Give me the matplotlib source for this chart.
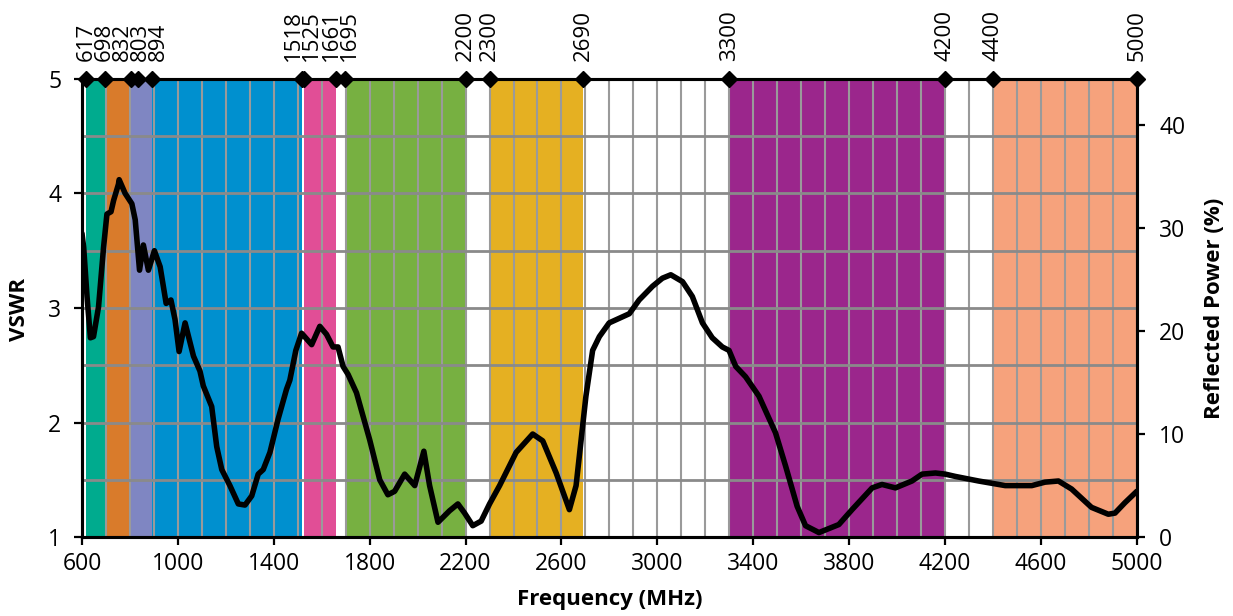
import numpy as np
import matplotlib.pyplot as plt
from matplotlib.ticker import MultipleLocator

plt.rcParams['font.family'] = ['Open Sans', 'DejaVu Sans']

# measured VSWR curve
freq = [600, 607, 621, 635, 648, 669, 690, 704, 721, 732, 752, 755, 780, 808, 822,
        840, 856, 877, 902, 926, 951, 971, 988, 1005, 1030, 1065, 1092, 1106, 1141,
        1162, 1183, 1217, 1252, 1280, 1308, 1335, 1356, 1384, 1418, 1453, 1467, 1492,
        1516, 1558, 1592, 1620, 1647, 1668, 1689, 1710, 1745, 1800, 1842, 1876, 1904,
        1946, 1988, 2026, 2050, 2085, 2133, 2168, 2196, 2230, 2265, 2300, 2342, 2411,
        2480, 2522, 2578, 2633, 2661, 2702, 2730, 2758, 2799, 2841, 2883, 2924, 2980,
        3021, 3056, 3105, 3146, 3188, 3229, 3271, 3299, 3327, 3368, 3424, 3493, 3535,
        3583, 3618, 3674, 3757, 3812, 3896, 3937, 3993, 4062, 4104, 4160, 4201, 4243,
        4340, 4451, 4562, 4617, 4673, 4728, 4811, 4881, 4909, 4950, 5000]
vswr = [3.65, 3.53, 3.10, 2.74, 2.75, 3.01, 3.53, 3.82, 3.84, 3.94, 4.08, 4.12, 4.00,
        3.91, 3.77, 3.33, 3.55, 3.33, 3.50, 3.36, 3.04, 3.07, 2.90, 2.62, 2.87, 2.58,
        2.45, 2.32, 2.14, 1.79, 1.59, 1.45, 1.29, 1.28, 1.36, 1.55, 1.59, 1.74, 2.03,
        2.29, 2.37, 2.63, 2.78, 2.68, 2.84, 2.77, 2.66, 2.66, 2.49, 2.42, 2.26, 1.85,
        1.50, 1.37, 1.40, 1.55, 1.45, 1.75, 1.45, 1.13, 1.23, 1.29, 1.21, 1.10, 1.14,
        1.29, 1.45, 1.74, 1.90, 1.84, 1.56, 1.24, 1.45, 2.23, 2.63, 2.75, 2.87, 2.91,
        2.95, 3.07, 3.19, 3.26, 3.29, 3.23, 3.10, 2.87, 2.74, 2.66, 2.63, 2.49, 2.40,
        2.23, 1.91, 1.62, 1.27, 1.10, 1.04, 1.11, 1.24, 1.43, 1.46, 1.43, 1.49, 1.55,
        1.56, 1.55, 1.53, 1.49, 1.45, 1.45, 1.48, 1.49, 1.42, 1.26, 1.20, 1.21, 1.30,
        1.40]

# frequency bands
band_start = [617, 698, 803, 894, 1525, 1695, 2300, 3300, 4400]
band_end = [698, 803, 894, 1518, 1661, 2200, 2690, 4200, 5000]
band_colors = ['#00AB8E', '#D97B2B', '#7F86C2', '#0090CF', '#E14E96',
               '#77B041', '#E5B022', '#9B268C', '#F6A27C']

# band edge markers (label order as in the chart)
edges = [617, 698, 832, 803, 894, 1518, 1525, 1661, 1695, 2200, 2300, 2690,
         3300, 4200, 4400, 5000]

xticks = [600, 1000, 1400, 1800, 2200, 2600, 3000, 3400, 3800, 4200, 4600, 5000]
vswr_ticks = [1, 2, 3, 4, 5]
power_ticks = [0, 10, 20, 30, 40]


def spread(targets, gap):
    # push overlapping labels apart, keep each cluster centred on its targets
    clusters = [[t] for t in targets]
    changed = True
    while changed:
        changed = False
        for i in range(len(clusters) - 1):
            a, b = clusters[i], clusters[i + 1]
            a_end = np.mean(a) + gap * (len(a) - 1) / 2
            b_start = np.mean(b) - gap * (len(b) - 1) / 2
            if b_start < a_end + gap:
                clusters[i] = a + b
                del clusters[i + 1]
                changed = True
                break
    out = []
    for c in clusters:
        start = np.mean(c) - gap * (len(c) - 1) / 2
        out += [start + gap * k for k in range(len(c))]
    return out


fig = plt.figure(figsize=(12.33, 6.16), dpi=100)
ax = fig.add_axes([0.0665, 0.128, 0.8555, 0.744])

for s, e, c in zip(band_start, band_end, band_colors):
    ax.axvspan(s, e, color=c, lw=0, zorder=0.2)

ax.plot(freq, vswr, color='black', lw=4, solid_joinstyle='round',
        solid_capstyle='round', zorder=3)

ax.plot(edges, [5] * len(edges), ls='none', marker='D', ms=8.5, color='black',
        clip_on=False, zorder=5)
for lab, xp in zip(edges, spread(edges, 75)):
    ax.annotate(str(lab), xy=(xp, 5), xytext=(0, 13), textcoords='offset points',
                rotation=90, ha='center', va='bottom', fontsize=16,
                annotation_clip=False)

ax.set_xlim(600, 5000)
ax.set_ylim(1, 5)
ax.set_xticks(xticks)
ax.set_yticks(vswr_ticks)
ax.xaxis.set_minor_locator(MultipleLocator(100))
ax.yaxis.set_minor_locator(MultipleLocator(0.5))
ax.grid(True, which='both', axis='x', color='#9a9a9a', lw=1.5)
ax.grid(True, which='both', axis='y', color='#8a8a8a', lw=2)
ax.set_axisbelow(True)
ax.tick_params(which='minor', length=0)
ax.tick_params(which='major', direction='out', length=6, width=1.6,
               labelsize=16.5, color='black')
ax.tick_params(axis='x', pad=5)
ax.tick_params(axis='y', pad=9)
for sp in ax.spines.values():
    sp.set_linewidth(2.2)
    sp.set_color('black')

ax2 = ax.twinx()
ax2.set_ylim(0, 44.44)
ax2.set_yticks(power_ticks)
ax2.tick_params(direction='out', length=6, width=1.6, labelsize=16.5, pad=10)
for sp in ax2.spines.values():
    sp.set_linewidth(2.2)

fig.text(0.0162, 0.497, 'VSWR', rotation=90, ha='center', va='center',
         fontsize=16, fontweight='bold')
fig.text(0.9854, 0.5, 'Reflected Power (%)', rotation=90, ha='center',
         va='center', fontsize=16, fontweight='bold')
fig.text(0.4947, 0.026, 'Frequency (MHz)', ha='center', va='center',
         fontsize=16, fontweight='bold')

fig.savefig('out.png', dpi=100)
